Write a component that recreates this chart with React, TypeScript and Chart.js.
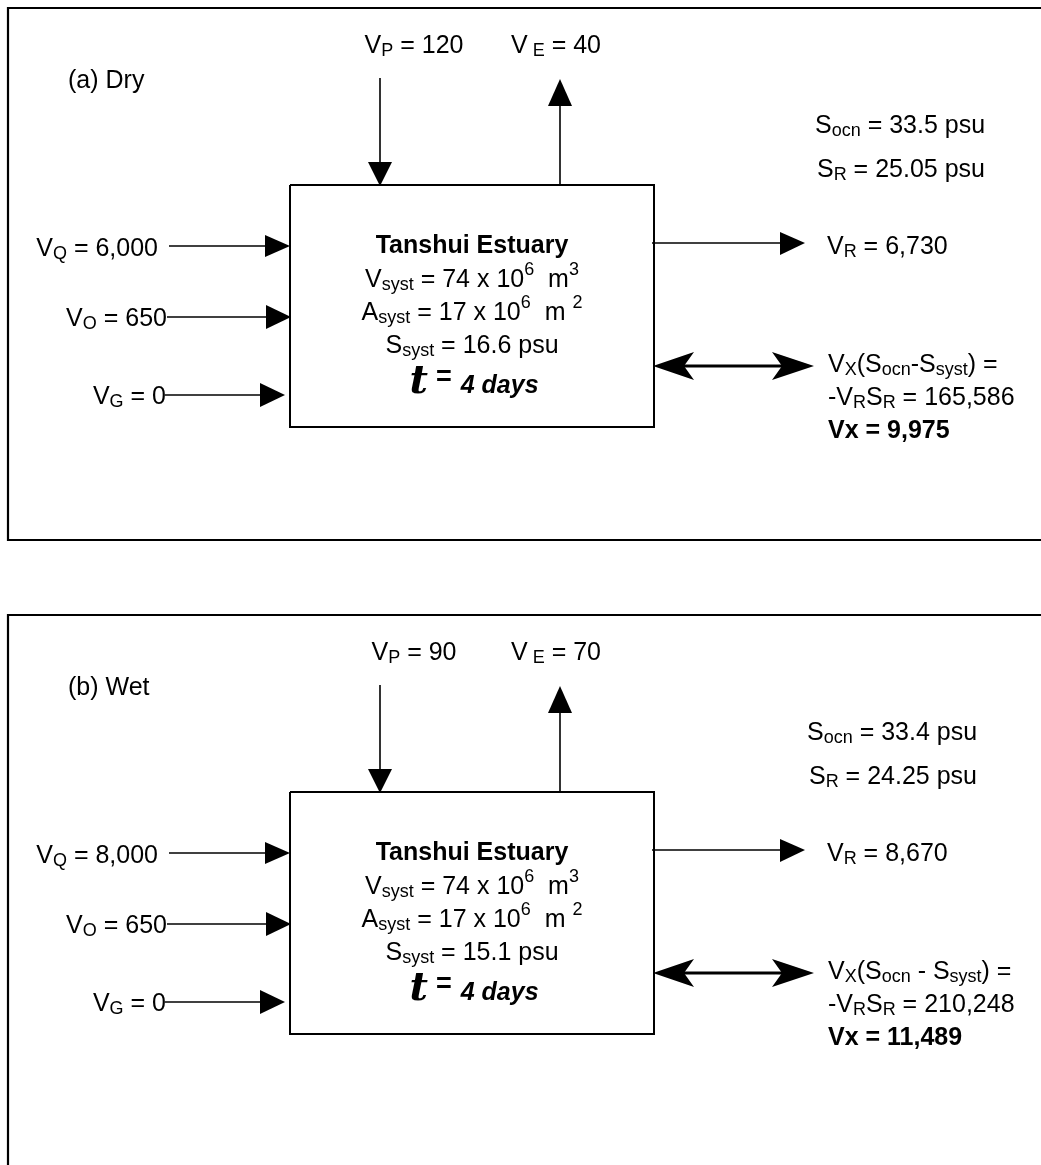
import React, { useEffect, useRef } from "react";
import { Chart, registerables } from "chart.js";

Chart.register(...registerables);

const W = 1041;
const H = 1165;

// ---------- data (per panel: dry season, wet season) ----------
const panelLabels = ["(a) Dry", "(b) Wet"];
const precipitation = [120, 90]; // V_P
const evaporation = [40, 70]; // V_E
const riverRunoff = [6000, 8000]; // V_Q
const otherInflow = [650, 650]; // V_O
const groundwater = [0, 0]; // V_G
const residualFlow = [6730, 8670]; // V_R
const oceanSalinity = [33.5, 33.4]; // S_ocn
const residualSalinity = [25.05, 24.25]; // S_R
const systemSalinity = [16.6, 15.1]; // S_syst
const systemVolume = [74, 74]; // x10^6 m3
const systemArea = [17, 17]; // x10^6 m2
const residenceDays = [4, 4];
const saltExchange = [165586, 210248]; // -V_R S_R
const mixingFlow = [9975, 11489]; // V_X
const estuaryName = "Tanshui Estuary";

// ---------- layout (diagram units) ----------
const PANEL_DY = [0, 607];
const S_LABEL_X = [815, 807];
const FONT = "'Liberation Sans', Arial, Helvetica, sans-serif";
const BASE = 25;

const fmt = (v: number) => v.toLocaleString("en-US");

type Seg = {
  t: string;
  sub?: boolean;
  sup?: boolean;
  bold?: boolean;
  italic?: boolean;
  size?: number;
  family?: string;
  dy?: number;
  gap?: number;
};

function segFont(s: Seg) {
  let size = s.size ?? BASE;
  if (s.sub || s.sup) size = Math.round(size * 0.72);
  return `${s.italic ? "italic " : ""}${s.bold ? "bold " : ""}${size}px ${s.family ?? FONT}`;
}

function drawRich(
  ctx: CanvasRenderingContext2D,
  segs: Seg[],
  x: number,
  y: number,
  align: "left" | "center" | "right" = "left"
) {
  let total = 0;
  const widths = segs.map((s) => {
    ctx.font = segFont(s);
    const w = ctx.measureText(s.t).width + (s.gap ?? 0);
    total += w;
    return w;
  });
  let cx = align === "left" ? x : align === "center" ? x - total / 2 : x - total;
  ctx.textAlign = "left";
  ctx.textBaseline = "alphabetic";
  ctx.fillStyle = "#000";
  segs.forEach((s, i) => {
    ctx.font = segFont(s);
    let dy = s.dy ?? 0;
    if (s.sub) dy += 3;
    if (s.sup) dy -= 12;
    ctx.fillText(s.t, cx, y + dy);
    cx += widths[i];
  });
}

function polyline(points: number[][], width: number) {
  return {
    data: points.map(([x, y]) => ({ x, y })),
    showLine: true,
    borderColor: "#000",
    backgroundColor: "#000",
    borderWidth: width,
    borderCapStyle: "butt" as const,
    pointRadius: 0,
    pointHoverRadius: 0,
    fill: false,
    tension: 0,
  };
}

function buildDatasets() {
  const ds: any[] = [];
  panelLabels.forEach((_, p) => {
    const d = PANEL_DY[p];
    // outer frame (right side / bottom cut by page)
    if (p === 0) {
      ds.push(polyline([[1060, 8 + d], [8, 8 + d], [8, 540 + d], [1060, 540 + d]], 2.2));
    } else {
      ds.push(polyline([[1060, 8 + d], [8, 8 + d], [8, 1200]], 2.2));
    }
    // estuary box
    ds.push(polyline([[290, 185 + d], [654, 185 + d], [654, 427 + d], [290, 427 + d], [290, 185 + d]], 2));
    // arrow shafts
    ds.push(polyline([[380, 78 + d], [380, 165 + d]], 1.6)); // V_P
    ds.push(polyline([[560, 185 + d], [560, 104 + d]], 1.6)); // V_E
    ds.push(polyline([[169, 246 + d], [267, 246 + d]], 1.6)); // V_Q
    ds.push(polyline([[167, 317 + d], [268, 317 + d]], 1.6)); // V_O
    ds.push(polyline([[165, 395 + d], [262, 395 + d]], 1.6)); // V_G
    ds.push(polyline([[652, 243 + d], [782, 243 + d]], 1.6)); // V_R
    ds.push(polyline([[680, 366 + d], [786, 366 + d]], 3.2)); // V_X exchange
  });
  return ds;
}

const diagramPlugin = {
  id: "diagram",
  afterDatasetsDraw(chart: any) {
    const ctx: CanvasRenderingContext2D = chart.ctx;
    const xs = chart.scales.x;
    const ys = chart.scales.y;
    const px = (v: number) => xs.getPixelForValue(v);
    const py = (v: number) => ys.getPixelForValue(v);

    const poly = (pts: number[][]) => {
      ctx.beginPath();
      pts.forEach(([x, y], i) => (i ? ctx.lineTo(px(x), py(y)) : ctx.moveTo(px(x), py(y))));
      ctx.closePath();
      ctx.fillStyle = "#000";
      ctx.fill();
    };

    ctx.save();
    panelLabels.forEach((label, p) => {
      const d = PANEL_DY[p];
      // arrowheads
      poly([[380, 186 + d], [368, 162 + d], [392, 162 + d]]); // down V_P
      poly([[560, 79 + d], [548, 106 + d], [572, 106 + d]]); // up V_E
      poly([[290, 246 + d], [265, 235 + d], [265, 257 + d]]); // V_Q
      poly([[291, 317 + d], [266, 305 + d], [266, 329 + d]]); // V_O
      poly([[285, 395 + d], [260, 383 + d], [260, 407 + d]]); // V_G
      poly([[805, 243 + d], [780, 232 + d], [780, 255 + d]]); // V_R
      // double stealth arrow
      poly([[653, 366 + d], [694, 352 + d], [684, 366 + d], [694, 380 + d]]);
      poly([[814, 366 + d], [772, 352 + d], [782, 366 + d], [772, 380 + d]]);

      // panel label
      drawRich(ctx, [{ t: label }], px(68), py(88 + d));

      // top labels
      drawRich(ctx, [{ t: "V" }, { t: "P", sub: true }, { t: ` = ${fmt(precipitation[p])}` }], px(414), py(53 + d), "center");
      drawRich(ctx, [{ t: "V" }, { t: " E", sub: true }, { t: ` = ${fmt(evaporation[p])}` }], px(556), py(53 + d), "center");

      // left labels
      drawRich(ctx, [{ t: "V" }, { t: "Q", sub: true }, { t: ` = ${fmt(riverRunoff[p])}` }], px(158), py(256 + d), "right");
      drawRich(ctx, [{ t: "V" }, { t: "O", sub: true }, { t: ` = ${fmt(otherInflow[p])}` }], px(167), py(326 + d), "right");
      drawRich(ctx, [{ t: "V" }, { t: "G", sub: true }, { t: ` = ${fmt(groundwater[p])}` }], px(166), py(404 + d), "right");

      // salinity labels
      const sx = S_LABEL_X[p];
      drawRich(ctx, [{ t: "S" }, { t: "ocn", sub: true }, { t: ` = ${oceanSalinity[p]} psu` }], px(sx), py(133 + d));
      drawRich(ctx, [{ t: "S" }, { t: "R", sub: true }, { t: ` = ${residualSalinity[p]} psu` }], px(sx + 2), py(177 + d));

      // residual flow
      drawRich(ctx, [{ t: "V" }, { t: "R", sub: true }, { t: ` = ${fmt(residualFlow[p])}` }], px(827), py(254 + d));

      // exchange
      drawRich(
        ctx,
        [{ t: "V" }, { t: "X", sub: true }, { t: "(S" }, { t: "ocn", sub: true }, { t: p === 0 ? "-S" : " - S" }, { t: "syst", sub: true }, { t: ") =" }],
        px(828),
        py(372 + d)
      );
      drawRich(
        ctx,
        [{ t: "-V" }, { t: "R", sub: true }, { t: "S" }, { t: "R", sub: true }, { t: ` = ${fmt(saltExchange[p])}` }],
        px(828),
        py(405 + d)
      );
      drawRich(ctx, [{ t: `Vx = ${fmt(mixingFlow[p])}`, bold: true }], px(828), py(438 + d));

      // box text
      const cx = px(472);
      drawRich(ctx, [{ t: estuaryName, bold: true }], cx, py(253 + d), "center");
      drawRich(
        ctx,
        [{ t: "V" }, { t: "syst", sub: true }, { t: ` = ${systemVolume[p]} x 10` }, { t: "6", sup: true }, { t: "  m" }, { t: "3", sup: true }],
        cx,
        py(287 + d),
        "center"
      );
      drawRich(
        ctx,
        [{ t: "A" }, { t: "syst", sub: true }, { t: ` = ${systemArea[p]} x 10` }, { t: "6", sup: true }, { t: "  m " }, { t: "2", sup: true }],
        cx,
        py(320 + d),
        "center"
      );
      drawRich(ctx, [{ t: "S" }, { t: "syst", sub: true }, { t: ` = ${systemSalinity[p]} psu` }], cx, py(353 + d), "center");
      drawRich(
        ctx,
        [
          { t: "t", bold: true, italic: true, size: 40, family: "'DejaVu Serif', serif", gap: 8 },
          { t: "=", bold: true, size: 27, dy: -8, gap: 9 },
          { t: `${residenceDays[p]} days`, bold: true, italic: true, size: 25 },
        ],
        px(474),
        py(393 + d),
        "center"
      );
    });
    ctx.restore();
  },
};

export default function App() {
  const ref = useRef<HTMLCanvasElement | null>(null);
  useEffect(() => {
    if (!ref.current) return;
    const chart = new Chart(ref.current, {
      type: "scatter",
      data: { datasets: buildDatasets() },
      options: {
        animation: false,
        responsive: false,
        maintainAspectRatio: false,
        devicePixelRatio: 1,
        layout: { padding: 0 },
        plugins: { legend: { display: false }, tooltip: { enabled: false } },
        events: [],
        scales: {
          x: { type: "linear", min: 0, max: W, display: false },
          y: { type: "linear", min: 0, max: H, reverse: true, display: false },
        },
      },
      plugins: [diagramPlugin],
    } as any);
    return () => chart.destroy();
  }, []);
  return (
    <div style={{ position: "fixed", left: 0, top: 0, width: W, height: H, background: "#fff" }}>
      <canvas ref={ref} width={W} height={H} style={{ display: "block" }} />
    </div>
  );
}
